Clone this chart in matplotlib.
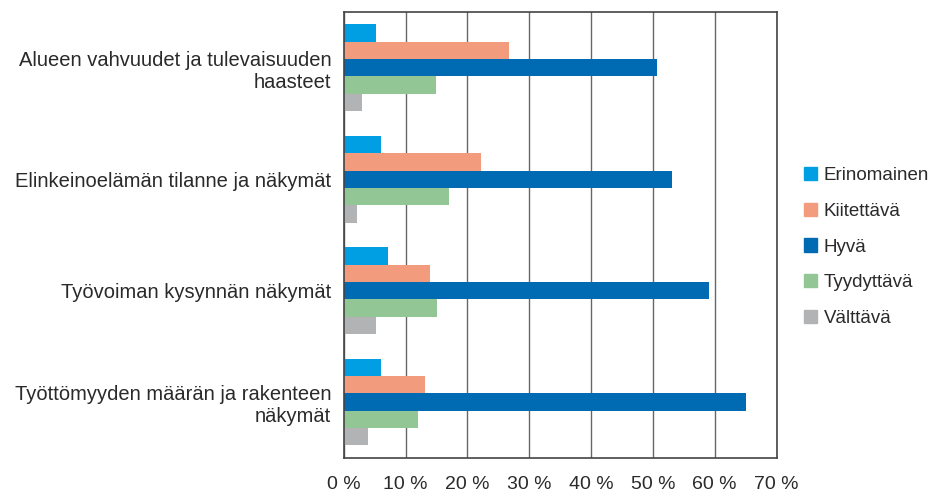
import matplotlib.pyplot as plt
import numpy as np
from matplotlib.patches import Patch

plt.rcParams['font.family'] = ['Liberation Sans', 'DejaVu Sans']

categories = [
    "Alueen vahvuudet ja tulevaisuuden\nhaasteet",
    "Elinkeinoelämän tilanne ja näkymät",
    "Työvoiman kysynnän näkymät",
    "Työttömyyden määrän ja rakenteen\nnäkymät",
]
series_names = ["Erinomainen", "Kiitettävä", "Hyvä", "Tyydyttävä", "Välttävä"]
erinomainen = [5.2, 6.1, 7.2, 6.0]
kiitettava = [26.7, 22.2, 14.0, 13.1]
hyva = [50.7, 53.1, 59.1, 65.0]
tyydyttava = [15.0, 17.1, 15.1, 12.0]
valttava = [2.9, 2.1, 5.2, 4.0]
xticks = [0, 10, 20, 30, 40, 50, 60, 70]
colors = ["#009fe3", "#f39c7d", "#006ab3", "#92c795", "#b2b3b5"]

values = [erinomainen, kiitettava, hyva, tyydyttava, valttava]
text_col = "#2a2a2a"

fig = plt.figure(figsize=(9.39, 4.94), dpi=100)
ax = fig.add_axes([0.366, 0.0735, 0.461, 0.902])

n = len(series_names)
bar_h = 0.156
y = np.arange(len(categories))
for i, (name, vals, c) in enumerate(zip(series_names, values, colors)):
    offset = (i - (n - 1) / 2) * bar_h
    ax.barh(y + offset, vals, height=bar_h, color=c, label=name)

ax.set_ylim(len(categories) - 0.5, -0.5)
ax.set_xlim(0, 70)
ax.set_xticks(xticks)
ax.set_xticklabels([f"{t} %" for t in xticks], fontsize=14, color=text_col)
ax.set_yticks(y)
ax.set_yticklabels(categories, fontsize=14.5, color=text_col)
ax.tick_params(axis="both", length=0)
ax.tick_params(axis="x", pad=13)
ax.tick_params(axis="y", pad=9)
ax.xaxis.grid(True, color="#666666", linewidth=1)
ax.set_axisbelow(True)
for s in ax.spines.values():
    s.set_color("#444444")
    s.set_linewidth(1.2)

handles = [Patch(color=c, label=nm) for nm, c in zip(series_names, colors)]
leg = fig.legend(handles=handles, loc="center left", bbox_to_anchor=(0.838, 0.5),
                 frameon=False, fontsize=13.5, handlelength=0.7, handleheight=0.7,
                 handletextpad=0.35, labelspacing=1.0)
for t in leg.get_texts():
    t.set_color(text_col)

fig.savefig("out.png", dpi=100)
